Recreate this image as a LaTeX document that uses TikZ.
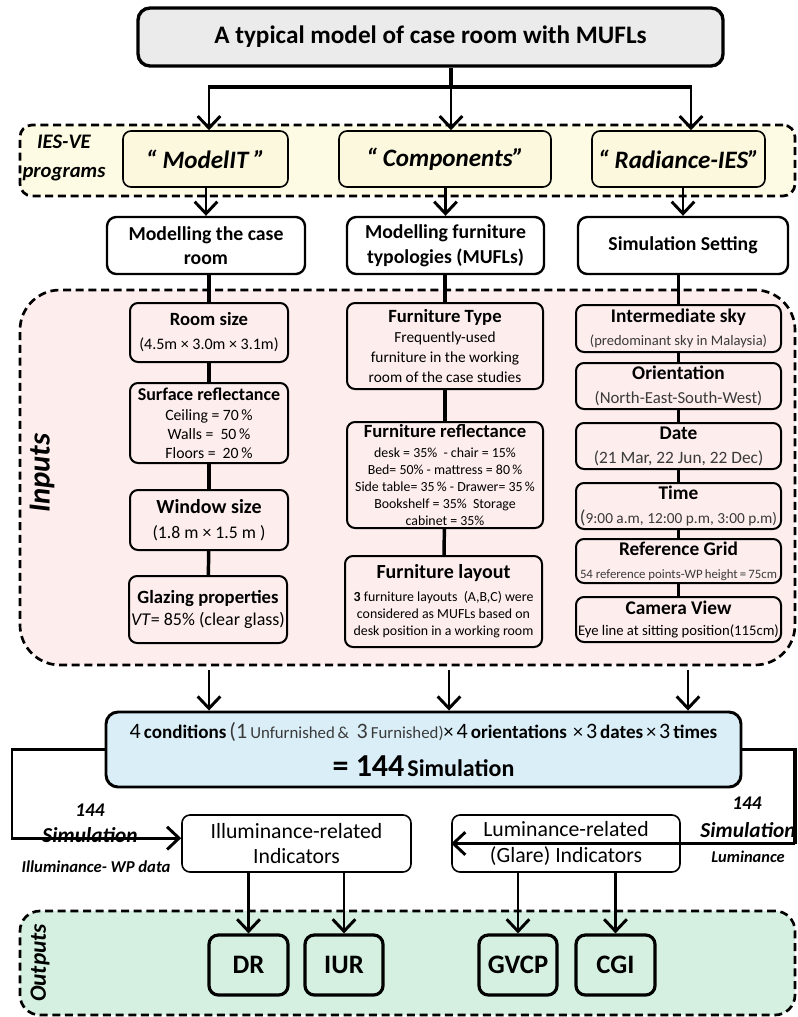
\documentclass[tikz,border=0pt]{standalone}
\usepackage{fontspec}
\setmainfont{Carlito}
\usetikzlibrary{arrows.meta,calc}
\definecolor{titlegray}{HTML}{EBEBEB}
\definecolor{iesyellow}{HTML}{FDFBE3}
\definecolor{progyellow}{HTML}{FCF8DD}
\definecolor{inpink}{HTML}{FDEDEC}
\definecolor{simblue}{HTML}{DAEEF7}
\definecolor{outgreen}{HTML}{D5F0E0}
\definecolor{dgray}{HTML}{3A3A3A}
\newcommand\fs[2]{\fontsize{#1}{#2}\selectfont}
\newcommand\mkbox[7]{\node[#6, minimum width={(#4-#2)*0.75pt}, minimum height={(#5-#3)*0.75pt}] (#1) at ({(#2+#4)/2},{(#3+#5)/2}) {#7};}
\begin{document}
\begin{tikzpicture}[x=0.75pt,y=-0.75pt,
  region/.style={draw, dash pattern=on 6pt off 3.5pt, line width=2pt, inner sep=0pt},
  box/.style={draw, line width=1.5pt, rounded corners=6pt, align=center, inner sep=0pt, text=black},
  prog/.style={box, fill=progyellow, line width=1.2pt, font=\fs{18.8}{22}\bfseries\itshape},
  lvl/.style={box, line width=1.8pt, rounded corners=7pt, font=\fs{14.8}{18.5}\bfseries},
  inbox/.style={box, line width=1.5pt},
  outbox/.style={box, fill=outgreen, line width=2.4pt, rounded corners=7pt, font=\fs{20}{24}\bfseries},
  indbox/.style={box, fill=white, line width=1.2pt, font=\fs{16.3}{19}},
  arr/.style={line width=2.2pt, -{Straight Barb[length=9pt,width=17pt]}},
  link/.style={line width=2.6pt},
  lbl/.style={inner sep=0pt, font=\bfseries\itshape, text=black},
]
\useasboundingbox (0,0) rectangle (797,1017);

% regions
\mkbox{ies}{20}{125}{795}{196}{region, fill=iesyellow, rounded corners=9pt}{}
\mkbox{inputs}{20}{290}{795}{665}{region, fill=inpink, rounded corners=30pt}{}
\mkbox{outputs}{20}{911}{795}{1015}{region, fill=outgreen, rounded corners=15pt}{}

% title
\mkbox{title}{138}{8}{723}{66}{box, fill=titlegray, line width=2.5pt, rounded corners=9pt, font=\fs{18.9}{20}\bfseries}{A typical model of case room with MUFLs}

% programs
\node[lbl, align=center, font=\fs{15.5}{22}\bfseries\itshape] (ieslbl) at (64,158) {IES-VE\\programs};
\mkbox{p1}{123}{131}{288}{187}{prog}{“ ModelIT ”}
\mkbox{p2}{339}{131}{551}{187}{prog}{“ Components”}
\mkbox{p3}{592}{131}{765}{187}{prog}{“ Radiance-IES”}

% level 2
\mkbox{l1}{107}{217}{305}{274}{lvl}{Modelling the case\\room}
\mkbox{l2}{347}{217}{544}{274}{lvl}{Modelling furniture\\typologies (MUFLs)}
\mkbox{l3}{578}{217}{788}{274}{lvl}{Simulation Setting}

% inputs label
\node[lbl, rotate=90, font=\fs{23}{26}\bfseries\itshape] (inlbl) at (42,473) {Inputs};

% column 1
\mkbox{room}{130}{303}{288}{362}{inbox, font=\fs{12}{15}}{{\fs{14}{15}\bfseries Room size}\\[3pt](4.5m × 3.0m × 3.1m)}
\mkbox{surf}{130}{383}{288}{463}{inbox, font=\fs{11.8}{14}}{{\fs{13.5}{14}\bfseries Surface reflectance}\\[1.5pt]Ceiling = 70\,\%\\Walls = \ 50\,\%\\Floors = \ 20\,\%}
\mkbox{win}{130}{490}{288}{550}{inbox, font=\fs{13.3}{16}}{{\fs{15}{16}\bfseries Window size}\\[3pt](1.8 m × 1.5 m )}
\mkbox{glaz}{129}{576}{287}{643}{inbox, font=\fs{13.5}{15}}{{\fs{14}{15}\bfseries Glazing properties}\\[1.5pt]\textit{VT}= 85\% (clear glass)}

% column 2
\mkbox{ftype}{347}{303}{543}{389}{inbox, font=\fs{11.5}{15}}{{\fs{14}{15}\bfseries Furniture Type}\\Frequently-used\\furniture in the working\\room of the case studies}
\mkbox{frefl}{347}{422}{543}{528}{inbox, font=\fs{10.4}{12.8}}{{\fs{14}{13}\bfseries Furniture reflectance}\\[2.5pt]desk = 35\% \ - chair = 15\%\\Bed= 50\% - mattress = 80\,\%\\Side table= 35\,\% - Drawer= 35\,\%\\Bookshelf = 35\% \ Storage\\cabinet = 35\%}
\mkbox{flay}{345}{556}{542}{647}{inbox, font=\fs{10.4}{12.8}}{{\fs{15}{13}\bfseries Furniture layout}\\[4.5pt]\textbf{3} furniture layouts \ (A,B,C) were\\considered as MUFLs based on\\desk position in a working room}

% column 3
\mkbox{sky}{576}{305}{781}{352}{inbox, font=\fs{10.9}{13}}{{\fs{14.5}{13}\bfseries Intermediate sky}\\[4pt]{\color{dgray}(predominant sky in Malaysia)}}
\mkbox{orient}{576}{363}{781}{409}{inbox, font=\fs{12.6}{14}}{{\fs{14.5}{14}\bfseries Orientation}\\[4pt]{\color{dgray}(North-East-South-West)}}
\mkbox{date}{576}{423}{781}{469}{inbox, font=\fs{13}{14}}{{\fs{14.5}{14}\bfseries Date}\\[4pt]{\color{dgray}(21 Mar, 22 Jun, 22 Dec)}}
\mkbox{time}{576}{483}{781}{529}{inbox, font=\fs{11.5}{14}}{{\fs{14.5}{14}\bfseries Time}\\[4pt]{\color{dgray}{\fs{14}{14}(}9:00 a.m, 12:00 p.m, 3:00 p.m)}}
\mkbox{grid}{576}{539}{781}{583}{inbox, font=\fs{9.6}{13}}{{\fs{14.5}{13}\bfseries Reference Grid}\\[4pt]{\color{dgray}54 reference points-WP\,height\,=\,75cm}}
\mkbox{cam}{576}{597}{781}{642}{inbox, font=\fs{11}{12}}{{\fs{14.5}{12}\bfseries Camera View}\\[3.5pt]Eye line at sitting position(115cm)}

% simulation box
\mkbox{sim}{106}{712}{741}{787}{box, fill=simblue, line width=2.2pt, rounded corners=9pt}{%
{\fs{16.5}{16}4} {\fs{14.3}{16}\bfseries conditions} {\color{dgray}{\fs{16.5}{16}(1} {\fs{12.6}{16}Unfurnished\,\& \ }{\fs{16.5}{16}3} {\fs{12.6}{16}Furnished)}}{\fs{15}{16}×} {\fs{16.5}{16}4} {\fs{14.3}{16}\bfseries orientations} \ {\fs{15}{16}×} {\fs{16.5}{16}3} {\fs{14.3}{16}\bfseries dates} {\fs{15}{16}×} {\fs{16.5}{16}3} {\fs{14.3}{16}\bfseries times}\\[9pt]
{\fs{24}{16}\bfseries = 144} {\fs{18}{16}\bfseries Simulation}}

% indicator boxes
\mkbox{illum}{182}{815}{411}{872}{indbox}{Illuminance-related\\Indicators}
\mkbox{lum}{452}{815}{680}{872}{indbox}{Luminance-related\\(Glare) Indicators}

% labels
\node[lbl, font=\fs{14.5}{16}\bfseries\itshape] (l144a) at (90,810) {144};
\node[lbl, font=\fs{16}{18}\bfseries\itshape] (lsima) at (90,835) {Simulation};
\node[lbl, font=\fs{12.5}{13}\bfseries\itshape] (lwp) at (96,867) {Illuminance- WP data};
\node[lbl, font=\fs{14.5}{16}\bfseries\itshape] (l144b) at (747,803) {144};
\node[lbl, font=\fs{16}{18}\bfseries\itshape] (lsimb) at (748,830) {Simulation};
\node[lbl, font=\fs{12.3}{13}\bfseries\itshape] (llum) at (748,857) {Luminance};

% outputs
\node[lbl, rotate=90, font=\fs{17.5}{20}\bfseries\itshape] (outlbl) at (40,963) {Outputs};
\mkbox{dr}{209}{935}{288}{995}{outbox}{DR}
\mkbox{iur}{305}{935}{383}{995}{outbox}{IUR}
\mkbox{gvcp}{479}{935}{557}{995}{outbox}{GVCP}
\mkbox{cgi}{576}{935}{655}{995}{outbox}{CGI}

% connectors: title to programs
\coordinate (bL) at (209,87);
\coordinate (bC) at (451,87);
\coordinate (bR) at (691,87);
\draw[link] (title.south -| bC) -- (bC);
\draw[link] ([xshift=-1pt]bL) -- ([xshift=1pt]bR);
\draw[arr] (bL) -- (bL |- p1.north);
\draw[arr] (bC) -- (bC |- p2.north);
\draw[arr] (bR) -- (bR |- p3.north);

% programs to level 2
\draw[arr] (l1.north |- p1.south) -- (l1.north);
\draw[arr] (l2.north |- p2.south) -- (l2.north);
\draw[arr] (l3.north |- p3.south) -- (l3.north);

% level 2 to inputs, chains
\draw[link] (room.north |- l1.south) -- (room.north);
\draw[link] (room) -- (surf);
\draw[link] (surf) -- (win);
\draw[link] (win) -- (glaz);
\draw[link] (ftype.north |- l2.south) -- (ftype.north);
\draw[link] (ftype) -- (frefl);
\draw[link] (frefl) -- (flay);
\draw[link] (sky.north |- l3.south) -- (sky.north);
\draw[link] (sky) -- (orient);
\draw[link] (orient) -- (date);
\draw[link] (date) -- (time);
\draw[link] (time) -- (grid);
\draw[link] (grid) -- (cam);

% inputs to simulation
\coordinate (aL) at (209,670);
\coordinate (aC) at (449,670);
\coordinate (aR) at (688,670);
\draw[arr] (aL) -- (aL |- sim.north);
\draw[arr] (aC) -- (aC |- sim.north);
\draw[arr] (aR) -- (aR |- sim.north);

% simulation to indicators
\coordinate (cL) at (12,0);
\coordinate (cR) at (795,0);
\draw[arr] (sim.west) -- (cL |- sim.west) -- ([yshift=4]cL |- illum.west) -- ([yshift=4]illum.west);
\draw[link] (sim.east) -- (cR |- sim.east) -- (cR |- lum.west);
\draw[arr] (cR |- lum.west) -- (lum.west);

% indicators to outputs
\draw[arr] (dr.north |- illum.south) -- (dr.north);
\draw[arr] (iur.north |- illum.south) -- (iur.north);
\draw[arr] (gvcp.north |- lum.south) -- (gvcp.north);
\draw[arr] (cgi.north |- lum.south) -- (cgi.north);
\end{tikzpicture}
\end{document}
